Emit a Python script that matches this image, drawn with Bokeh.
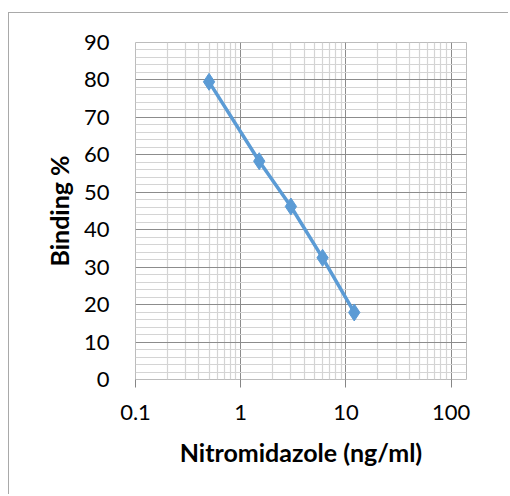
from bokeh.plotting import figure
from bokeh.models import FixedTicker, CustomJSTickFormatter, Range1d
from bokeh.embed import file_html
from bokeh.resources import INLINE

concentration = [0.5, 1.5, 3, 6, 12]
binding = [79.5, 58.3, 46.2, 32.5, 17.9]

x_major = [0.1, 1, 10, 100]
x_minor = [m * d for d in [0.1, 1, 10] for m in range(2, 10)]
y_major = list(range(0, 100, 10))
y_minor = list(range(0, 92, 2))

FONT = "Lato"

p = figure(width=500, height=482, x_axis_type="log",
           x_range=Range1d(0.1, 140), y_range=Range1d(0, 90),
           output_backend="svg", toolbar_location=None,
           min_border_left=126, min_border_right=43,
           min_border_top=29, min_border_bottom=116)
p.styles = {"border-left": "1px solid #a9a9a9", "border-top": "1px solid #a9a9a9",
            "margin-top": "12px", "margin-left": "8px"}

p.line(concentration, binding, line_color="#5b9bd5", line_width=3.5)
p.scatter(concentration, binding, marker="diamond", size=17,
          fill_color="#5b9bd5", line_color="#5b9bd5")

xa = p.xaxis[0]
xa.ticker = FixedTicker(ticks=x_major, minor_ticks=x_minor)
xa.formatter = CustomJSTickFormatter(code="return tick < 1 ? tick.toFixed(1) : tick.toFixed(0);")
xa.axis_line_color = None
xa.major_tick_out = 8
xa.major_tick_in = 0
xa.major_tick_line_color = "#868686"
xa.minor_tick_out = 0
xa.minor_tick_in = 0
xa.major_label_standoff = 17
xa.major_label_text_font = FONT
xa.major_label_text_font_size = "22px"
xa.major_label_text_color = "#000000"
xa.axis_label = "Nitromidazole (ng/ml)"
xa.axis_label_text_font = FONT
xa.axis_label_text_font_style = "bold"
xa.axis_label_text_font_size = "25px"
xa.axis_label_standoff = 14
xa.axis_label_text_color = "#000000"

ya = p.yaxis[0]
ya.ticker = FixedTicker(ticks=y_major, minor_ticks=y_minor)
ya.axis_line_color = None
ya.major_tick_out = 0
ya.major_tick_in = 0
ya.minor_tick_out = 0
ya.minor_tick_in = 0
ya.major_label_standoff = 26
ya.major_label_text_font = FONT
ya.major_label_text_font_size = "22px"
ya.major_label_text_color = "#000000"
ya.axis_label = "Binding %"
ya.axis_label_text_font = FONT
ya.axis_label_text_font_style = "bold"
ya.axis_label_text_font_size = "25px"
ya.axis_label_standoff = 7
ya.axis_label_text_color = "#000000"

for g in (p.xgrid[0], p.ygrid[0]):
    g.grid_line_color = "#8c8c8c"
    g.grid_line_width = 1
    g.minor_grid_line_color = "#d4d4d4"
    g.minor_grid_line_width = 1.2

p.outline_line_color = "#bcbcbc"
p.outline_line_width = 1

open("out.html", "w").write(file_html(p, INLINE))
